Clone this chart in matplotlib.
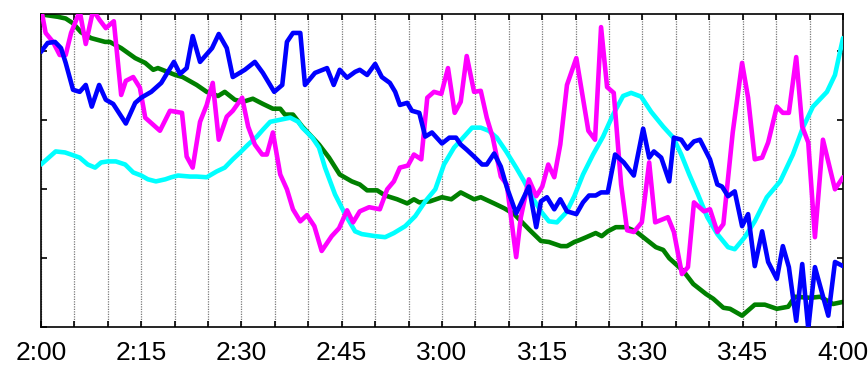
import matplotlib
matplotlib.use("Agg")
import matplotlib.pyplot as plt

# Minutes after 2:00 and readings for each trace
green_t = [0.0, 2.5, 3.7, 4.8, 6.0, 7.5, 9.6, 10.3, 12.0, 14.1, 15.6, 16.8, 17.5, 20.1, 21.2,
           23.3, 24.8, 26.5, 27.5, 29.0, 30.2, 31.7, 33.2, 34.7, 35.8, 36.5, 37.7, 39.1, 41.6,
           43.1, 44.7, 46.5, 47.7, 48.8, 50.3, 51.5, 53.3, 54.8, 55.8, 56.6, 58.2, 60.0, 61.4,
           62.8, 64.8, 65.8, 67.8, 69.3, 70.8, 73.0, 74.8, 76.0, 77.8, 78.7, 79.8, 80.5, 81.6,
           83.0, 83.9, 84.8, 86.0, 87.5, 89.0, 90.5, 92.0, 93.1, 94.0, 96.1, 97.6, 99.5, 100.6,
           102.1, 103.1, 104.9, 106.8, 108.3, 110.1, 111.8, 112.8, 115.1, 116.6, 118.5, 120.0]
green_v = [90.7, 90.0, 89.5, 88.1, 85.5, 83.8, 82.7, 82.7, 80.9, 78.0, 76.6, 74.6, 75.1, 73.1, 72.5,
           70.2, 68.2, 67.0, 68.2, 65.9, 65.3, 66.2, 64.7, 63.3, 63.3, 61.6, 61.6, 58.1, 52.9,
           49.1, 44.2, 42.2, 41.3, 39.6, 39.6, 38.1, 37.0, 35.8, 37.0, 36.1, 36.4, 37.6, 37.0,
           39.0, 37.0, 37.6, 35.8, 34.4, 32.7, 28.3, 24.9, 24.6, 23.4, 23.4, 24.6, 25.1, 26.0,
           27.2, 26.3, 27.7, 28.9, 28.9, 27.7, 25.4, 23.1, 22.3, 19.9, 16.2, 12.4, 9.5, 8.1,
           5.5, 5.2, 3.2, 6.4, 6.4, 5.2, 5.8, 8.7, 8.4, 8.7, 6.6, 7.2]

cyan_t = [0.0, 2.2, 3.6, 4.5, 5.8, 7.0, 8.1, 9.0, 10.0, 11.2, 12.6, 13.8, 15.0, 16.0, 17.2,
          18.6, 19.5, 20.5, 22.3, 23.3, 24.8, 26.3, 27.5, 28.7, 29.8, 31.0, 32.3, 33.2, 34.3,
          35.8, 37.3, 38.5, 39.1, 40.6, 41.6, 42.5, 44.0, 45.5, 47.0, 48.0, 50.0, 51.5, 52.8,
          54.5, 56.0, 57.5, 59.0, 60.3, 61.8, 63.3, 64.5, 65.8, 67.0, 68.2, 69.6, 71.1, 72.3,
          73.5, 74.8, 76.0, 77.2, 78.6, 79.8, 81.1, 82.6, 84.1, 85.6, 87.1, 88.3, 89.8, 91.3,
          93.1, 94.6, 95.8, 97.0, 98.3, 99.7, 101.2, 102.8, 103.8, 105.3, 106.8, 108.6, 110.6,
          112.5, 114.0, 115.5, 117.6, 118.8, 120.0]
cyan_v = [47.1, 50.9, 50.6, 50.0, 49.1, 47.1, 46.2, 47.7, 48.0, 48.0, 47.1, 44.8, 43.9, 42.8, 42.2,
          42.8, 43.4, 43.9, 43.6, 43.6, 43.4, 45.1, 46.2, 48.6, 50.6, 52.9, 55.2, 57.2, 59.5,
          60.1, 60.7, 59.5, 57.8, 54.9, 52.0, 46.2, 38.4, 32.7, 27.7, 26.9, 26.3, 26.0, 27.2,
          29.2, 32.1, 36.4, 39.9, 47.1, 52.0, 55.2, 57.8, 57.8, 56.9, 54.9, 50.9, 46.2, 42.2,
          37.6, 33.5, 30.6, 30.3, 33.2, 37.9, 44.2, 50.0, 55.2, 61.6, 67.0, 67.9, 66.8, 62.4,
          58.1, 54.9, 50.0, 44.2, 38.4, 31.8, 26.9, 23.1, 22.5, 26.0, 30.6, 37.6, 42.2,
          50.0, 57.8, 63.9, 68.2, 73.1, 83.8]

blue_t = [0.0, 1.0, 2.1, 3.0, 3.7, 4.8, 5.8, 6.7, 7.6, 8.7, 9.7, 10.8, 12.7, 14.1, 15.0, 16.5,
          18.0, 19.9, 20.8, 21.8, 22.7, 23.8, 25.6, 26.6, 27.8, 28.7, 30.5, 32.0, 33.2, 34.9,
          36.1, 36.8, 37.7, 38.8, 39.5, 41.0, 42.8, 43.8, 44.7, 45.8, 47.0, 47.7, 48.8, 50.0,
          51.0, 52.2, 53.0, 53.7, 54.8, 55.5, 56.6, 57.5, 58.5, 60.0, 61.1, 62.1, 62.8, 63.7,
          64.8, 66.0, 66.7, 67.8, 68.8, 69.7, 71.1, 73.0, 74.1, 74.8, 75.7, 76.8, 77.7, 78.7,
          80.1, 81.1, 82.0, 83.0, 83.8, 84.8, 85.9, 87.2, 88.7, 90.1, 91.0, 91.7, 92.8, 94.0,
          94.7, 95.8, 96.7, 97.7, 98.6, 100.1, 101.2, 101.9, 102.8, 103.8, 104.9, 105.8, 106.8,
          107.9, 108.8, 110.1, 111.0, 111.9, 113.0, 113.9, 114.8, 115.8, 117.8, 118.8, 120.0]
blue_v = [79.8, 82.4, 82.7, 80.9, 76.6, 68.8, 68.2, 70.2, 63.9, 70.2, 65.9, 64.7, 59.0, 65.0, 66.5, 68.2,
          70.8, 76.9, 73.4, 75.1, 84.4, 76.9, 80.9, 85.0, 80.9, 72.5, 74.6, 76.9, 73.7, 68.2,
          70.2, 82.7, 85.3, 85.3, 70.2, 73.7, 75.1, 70.2, 74.6, 72.3, 74.0, 74.6, 73.1, 76.3,
          72.5, 70.8, 68.2, 64.4, 65.0, 62.7, 62.1, 55.2, 56.4, 53.2, 54.9, 54.9, 52.9, 51.4,
          49.4, 47.1, 47.1, 50.3, 46.5, 40.5, 32.9, 40.7, 28.9, 36.4, 37.6, 34.1, 37.0, 33.5,
          32.7, 36.1, 38.1, 38.1, 39.0, 39.0, 50.0, 47.7, 43.9, 57.5, 49.1, 50.9, 49.1, 42.2,
          54.9, 54.3, 51.7, 53.8, 54.3, 48.6, 41.3, 40.7, 37.9, 39.3, 29.2, 32.7, 17.6,
          27.7, 18.8, 13.9, 23.4, 17.3, 1.7, 18.2, -0.5, 17.3, 3.2, 18.8, 17.6]

magenta_t = [0.0, 0.7, 1.8, 2.8, 3.7, 4.5, 5.8, 6.7, 7.8, 8.8, 9.7, 10.9, 12.0, 12.7, 13.8, 14.8,
             15.6, 17.8, 19.3, 21.1, 21.8, 22.7, 23.8, 24.8, 25.7, 26.6, 27.8, 28.7, 30.1, 31.0,
             32.0, 33.1, 33.8, 34.7, 35.8, 36.8, 37.7, 38.8, 39.8, 40.9, 42.0, 43.5, 44.6, 45.8,
             46.7, 47.7, 49.1, 50.7, 51.8, 52.8, 53.7, 54.9, 55.8, 56.9, 57.8, 58.8, 59.9, 60.9,
             61.9, 62.8, 63.7, 64.8, 65.8, 66.7, 67.6, 68.8, 69.7, 71.1, 71.8, 73.0, 74.1, 75.0,
             75.9, 76.8, 77.7, 78.7, 80.1, 81.9, 82.9, 83.8, 84.7, 85.7, 86.8, 87.7, 88.7, 89.9,
             91.0, 91.9, 93.8, 94.7, 95.9, 96.8, 97.7, 99.2, 100.1, 101.2, 102.1, 103.5, 104.9,
             105.8, 106.8, 107.9, 108.8, 110.1, 111.0, 111.9, 113.0, 113.9, 114.8, 115.8, 117.0,
             118.8, 120.0]
magenta_v = [92.5, 85.3, 82.7, 78.9, 78.9, 85.3, 91.6, 82.1, 91.9, 89.0, 86.7, 88.7, 67.3, 71.4, 72.5, 69.4,
             60.7, 56.9, 62.7, 62.1, 49.4, 46.2, 59.5, 64.4, 70.8, 54.3, 61.0, 62.7, 66.5, 58.1,
             52.9, 50.0, 50.0, 56.4, 44.2, 39.9, 34.1, 30.6, 32.4, 29.2, 22.0, 26.3, 28.6, 33.8,
             30.3, 33.5, 34.7, 34.1, 39.9, 42.2, 46.2, 46.8, 50.0, 48.6, 66.5, 68.2, 67.6, 75.1,
             62.1, 65.3, 78.6, 68.2, 68.5, 60.7, 54.9, 43.6, 41.3, 20.2, 31.8, 42.8, 37.9, 40.7,
             47.1, 43.4, 52.9, 70.2, 78.0, 56.9, 54.3, 87.0, 69.6, 67.9, 41.3, 28.0, 27.5, 30.3,
             47.7, 30.3, 31.8, 27.5, 15.3, 17.3, 36.1, 33.5, 34.1, 27.5, 29.8, 56.4, 76.6,
             66.5, 48.6, 49.1, 53.5, 63.9, 62.1, 62.1, 78.3, 58.1, 53.5, 26.0, 54.3,
             39.9, 43.4]

tick_minutes = list(range(0, 121, 5))
time_labels = ["2:00", "2:15", "2:30", "2:45", "3:00", "3:15", "3:30", "3:45", "4:00"]
y_ticks = [0, 20, 40, 60, 80]

fig = plt.figure(figsize=(8.68, 3.65), dpi=100)
ax = fig.add_axes([0.0472, 0.1049, 0.924, 0.8567])

# vertical guides every five minutes
for m in tick_minutes:
    ax.axvline(m, color="#7a7a7a", lw=0.9, ls=(0, (1, 1)), zorder=1)

line_kw = dict(lw=3.3, solid_joinstyle="round", solid_capstyle="round")
ax.plot(green_t, green_v, color="#008000", zorder=2, **line_kw)
ax.plot(cyan_t, cyan_v, color="#00FFFF", zorder=3, **line_kw)
ax.plot(magenta_t, magenta_v, color="#FF00FF", zorder=4, **line_kw)
ax.plot(blue_t, blue_v, color="#0000FF", zorder=5, **line_kw)

ax.set_xlim(0, 120)
ax.set_ylim(0.3, 90.8)

labels = []
for m in tick_minutes:
    labels.append(time_labels[m // 15] if m % 15 == 0 else "")
ax.set_xticks(tick_minutes)
ax.set_xticklabels(labels, fontsize=19, family="Liberation Sans")
ax.set_yticks(y_ticks)
ax.set_yticklabels([])
ax.tick_params(axis="both", direction="in", length=4, width=1.2, color="black",
               top=True, right=True)
ax.tick_params(axis="x", pad=10)

for s in ax.spines.values():
    s.set_color("black")
    s.set_linewidth(1.2)

fig.savefig("out.png", dpi=100)
